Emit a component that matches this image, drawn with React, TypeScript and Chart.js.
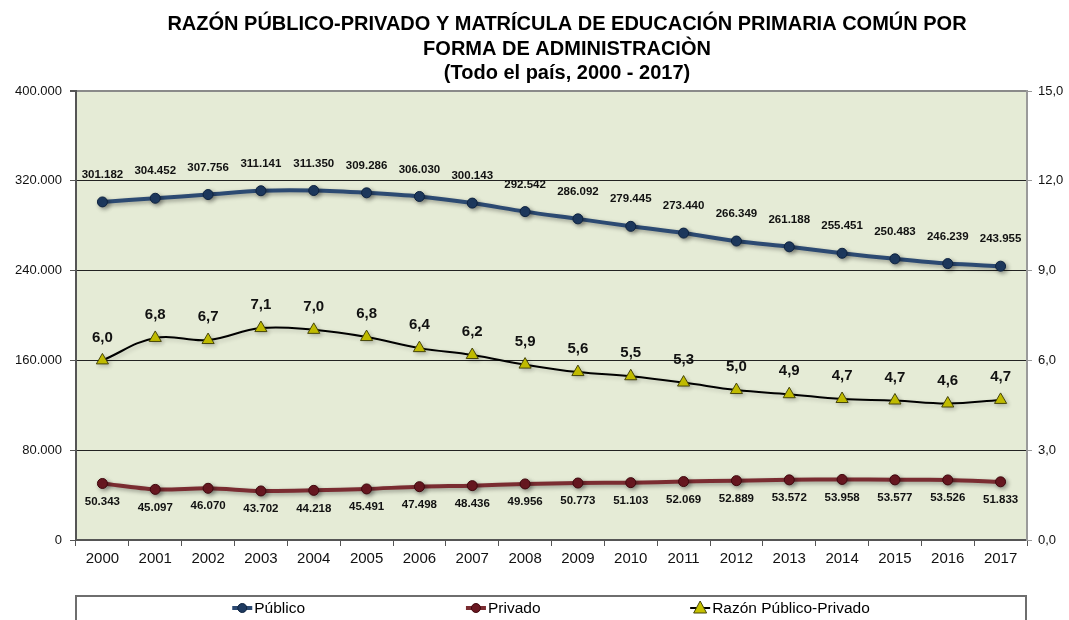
import React, { useEffect, useRef } from "react";
import { Chart, registerables } from "chart.js";

Chart.register(...registerables);

const categories = ["2000", "2001", "2002", "2003", "2004", "2005", "2006", "2007", "2008", "2009", "2010", "2011", "2012", "2013", "2014", "2015", "2016", "2017"];
const publico = [301182, 304452, 307756, 311141, 311350, 309286, 306030, 300143, 292542, 286092, 279445, 273440, 266349, 261188, 255451, 250483, 246239, 243955];
const privado = [50343, 45097, 46070, 43702, 44218, 45491, 47498, 48436, 49956, 50773, 51103, 52069, 52889, 53572, 53958, 53577, 53526, 51833];
const razon = [6.0, 6.75, 6.68, 7.08, 7.02, 6.78, 6.41, 6.18, 5.86, 5.61, 5.47, 5.26, 5.01, 4.87, 4.71, 4.66, 4.56, 4.68];

const titleLines = [
  "RAZÓN PÚBLICO-PRIVADO Y MATRÍCULA DE EDUCACIÓN PRIMARIA COMÚN POR",
  "FORMA DE ADMINISTRACIÒN",
  "(Todo el país, 2000 - 2017)",
];
const seriesNames = ["Público", "Privado", "Razón Público-Privado"];

const leftMax = 400000;
const leftStep = 80000;
const rightMax = 15;
const rightStep = 3;

const FONT = "'Liberation Sans', Arial, sans-serif";

const fmtThousands = (n: number) => String(Math.round(n)).replace(/\B(?=(\d{3})+(?!\d))/g, ".");
const fmtDecimal = (n: number) => n.toFixed(1).replace(".", ",");

const COLORS = {
  pubLine: "#2C4A72",
  pubPoint: "#1E3A60",
  pubBorder: "#0E2340",
  privLine: "#7A2C31",
  privPoint: "#6A1821",
  privBorder: "#40080E",
  ratioLine: "#000000",
  ratioPoint: "#C6C100",
  ratioBorder: "#45450A",
  plotBg: "#E5EBD6",
};

export default function App() {
  const ref = useRef<HTMLCanvasElement | null>(null);

  useEffect(() => {
    if (!ref.current) return;

    const bgPlugin = {
      id: "plotBg",
      beforeDraw(chart: any) {
        const { ctx, chartArea } = chart;
        ctx.save();
        ctx.fillStyle = COLORS.plotBg;
        ctx.fillRect(chartArea.left, chartArea.top, chartArea.right - chartArea.left, chartArea.bottom - chartArea.top);
        ctx.restore();
      },
    };

    const shadowPlugin = {
      id: "shadows",
      beforeDatasetDraw(chart: any, args: any) {
        const ctx = chart.ctx;
        ctx.save();
        const strong = args.index < 2;
        ctx.shadowColor = strong ? "rgba(0,0,0,0.35)" : "rgba(0,0,0,0.18)";
        ctx.shadowBlur = 4;
        ctx.shadowOffsetX = 2;
        ctx.shadowOffsetY = 2;
      },
      afterDatasetDraw(chart: any) {
        chart.ctx.restore();
      },
    };

    const labelPlugin = {
      id: "dataLabels",
      afterDatasetsDraw(chart: any) {
        const ctx = chart.ctx;
        ctx.save();
        ctx.textAlign = "center";
        ctx.textBaseline = "middle";
        ctx.fillStyle = "#111";
        chart.data.datasets.forEach((ds: any, i: number) => {
          const meta = chart.getDatasetMeta(i);
          meta.data.forEach((pt: any, j: number) => {
            const v = ds.data[j];
            if (i === 0) {
              ctx.font = `bold 11.5px ${FONT}`;
              ctx.fillText(fmtThousands(v), pt.x, pt.y - 27);
            } else if (i === 1) {
              ctx.font = `bold 11.5px ${FONT}`;
              ctx.fillText(fmtThousands(v), pt.x, pt.y + 18);
            } else {
              ctx.font = `bold 15px ${FONT}`;
              ctx.fillText(fmtDecimal(v), pt.x, pt.y - 23);
            }
          });
        });
        ctx.restore();
      },
    };

    const titleLegendPlugin = {
      id: "titleLegend",
      afterDraw(chart: any) {
        const ctx = chart.ctx;
        const { chartArea } = chart;
        ctx.save();
        // title
        ctx.fillStyle = "#000";
        ctx.textAlign = "center";
        ctx.textBaseline = "alphabetic";
        ctx.font = `bold 20px ${FONT}`;
        const cx = 567;
        const baselines = [30, 54.5, 78.5];
        titleLines.forEach((t, k) => ctx.fillText(t, cx, baselines[k]));

        // legend box
        const left = chartArea.left;
        const right = chartArea.right - 1;
        const top = 596;
        ctx.strokeStyle = "#6E6E6E";
        ctx.lineWidth = 2;
        ctx.beginPath();
        ctx.moveTo(left, 640);
        ctx.lineTo(left, top);
        ctx.lineTo(right, top);
        ctx.lineTo(right, 640);
        ctx.stroke();

        const w = right - left;
        const cy = 608;
        const xs = [left + w * 0.175, left + w * 0.421, left + w * 0.657];
        const lineCols = [COLORS.pubLine, COLORS.privLine, COLORS.ratioLine];
        const lineWs = [4, 4, 2];
        ctx.font = `15.5px ${FONT}`;
        ctx.textAlign = "left";
        ctx.textBaseline = "middle";
        xs.forEach((x, k) => {
          ctx.strokeStyle = lineCols[k];
          ctx.lineWidth = lineWs[k];
          ctx.beginPath();
          ctx.moveTo(x - 10, cy);
          ctx.lineTo(x + 10, cy);
          ctx.stroke();
          ctx.lineWidth = 1;
          if (k < 2) {
            ctx.fillStyle = k === 0 ? COLORS.pubPoint : COLORS.privPoint;
            ctx.strokeStyle = k === 0 ? COLORS.pubBorder : COLORS.privBorder;
            ctx.beginPath();
            ctx.arc(x, cy, 4.5, 0, Math.PI * 2);
            ctx.fill();
            ctx.stroke();
          } else {
            ctx.fillStyle = COLORS.ratioPoint;
            ctx.strokeStyle = COLORS.ratioBorder;
            ctx.beginPath();
            ctx.moveTo(x, cy - 7);
            ctx.lineTo(x + 6.5, cy + 5);
            ctx.lineTo(x - 6.5, cy + 5);
            ctx.closePath();
            ctx.fill();
            ctx.stroke();
          }
          ctx.fillStyle = "#000";
          ctx.fillText(seriesNames[k], x + 12, cy + 1);
        });
        ctx.restore();
      },
    };

    const chart = new Chart(ref.current, {
      type: "line",
      data: {
        labels: categories,
        datasets: [
          {
            label: seriesNames[0],
            data: publico,
            yAxisID: "y",
            borderColor: COLORS.pubLine,
            borderWidth: 4,
            backgroundColor: COLORS.pubPoint,
            pointBackgroundColor: COLORS.pubPoint,
            pointBorderColor: COLORS.pubBorder,
            pointBorderWidth: 1,
            pointRadius: 5,
            tension: 0.3,
          },
          {
            label: seriesNames[1],
            data: privado,
            yAxisID: "y",
            borderColor: COLORS.privLine,
            borderWidth: 4,
            backgroundColor: COLORS.privPoint,
            pointBackgroundColor: COLORS.privPoint,
            pointBorderColor: COLORS.privBorder,
            pointBorderWidth: 1,
            pointRadius: 5,
            tension: 0.3,
          },
          {
            label: seriesNames[2],
            data: razon,
            yAxisID: "y1",
            borderColor: COLORS.ratioLine,
            borderWidth: 2,
            backgroundColor: COLORS.ratioPoint,
            pointStyle: "triangle",
            pointBackgroundColor: COLORS.ratioPoint,
            pointBorderColor: COLORS.ratioBorder,
            pointBorderWidth: 1,
            pointRadius: 7,
            tension: 0.4,
          },
        ],
      },
      options: {
        responsive: false,
        animation: false,
        devicePixelRatio: 1,
        layout: { padding: { top: 91, left: 0, right: 0, bottom: 0 } },
        plugins: {
          legend: { display: false },
          title: { display: false },
          tooltip: { enabled: false },
        },
        scales: {
          x: {
            offset: true,
            grid: { offset: true, drawOnChartArea: false, drawTicks: true, tickLength: 6, color: "#555", lineWidth: 1 },
            border: { display: true, color: "#555", width: 2 },
            ticks: { color: "#111", font: { family: FONT, size: 15 }, padding: 4, maxRotation: 0 },
            afterFit(scale: any) { scale.height = 80; },
          },
          y: {
            position: "left",
            min: 0,
            max: leftMax,
            ticks: { stepSize: leftStep, color: "#111", font: { family: FONT, size: 13 }, padding: 8, callback: (v: any) => fmtThousands(Number(v)) },
            grid: {
              color: (c: any) => (c.tick && c.tick.value === leftMax ? "#8A8A8A" : "#222"),
              lineWidth: (c: any) => (c.tick && c.tick.value === leftMax ? 2 : 1),
              tickLength: 6,
              tickColor: "#555",
            },
            border: { display: true, color: "#555", width: 2 },
            afterFit(scale: any) { scale.width = 76; },
          },
          y1: {
            position: "right",
            min: 0,
            max: rightMax,
            ticks: { stepSize: rightStep, color: "#111", font: { family: FONT, size: 13 }, padding: 6, callback: (v: any) => fmtDecimal(Number(v)) },
            grid: { drawOnChartArea: false, tickLength: 5, color: "#999" },
            border: { display: true, color: "#9A9A9A", width: 2 },
            afterFit(scale: any) { scale.width = 42; },
          },
        },
      },
      plugins: [bgPlugin, shadowPlugin, labelPlugin, titleLegendPlugin],
    } as any);

    return () => chart.destroy();
  }, []);

  return (
    <div style={{ position: "absolute", left: 0, top: 0, width: 1069, height: 620, background: "#fff" }}>
      <canvas ref={ref} width={1069} height={620} style={{ display: "block" }} />
    </div>
  );
}
